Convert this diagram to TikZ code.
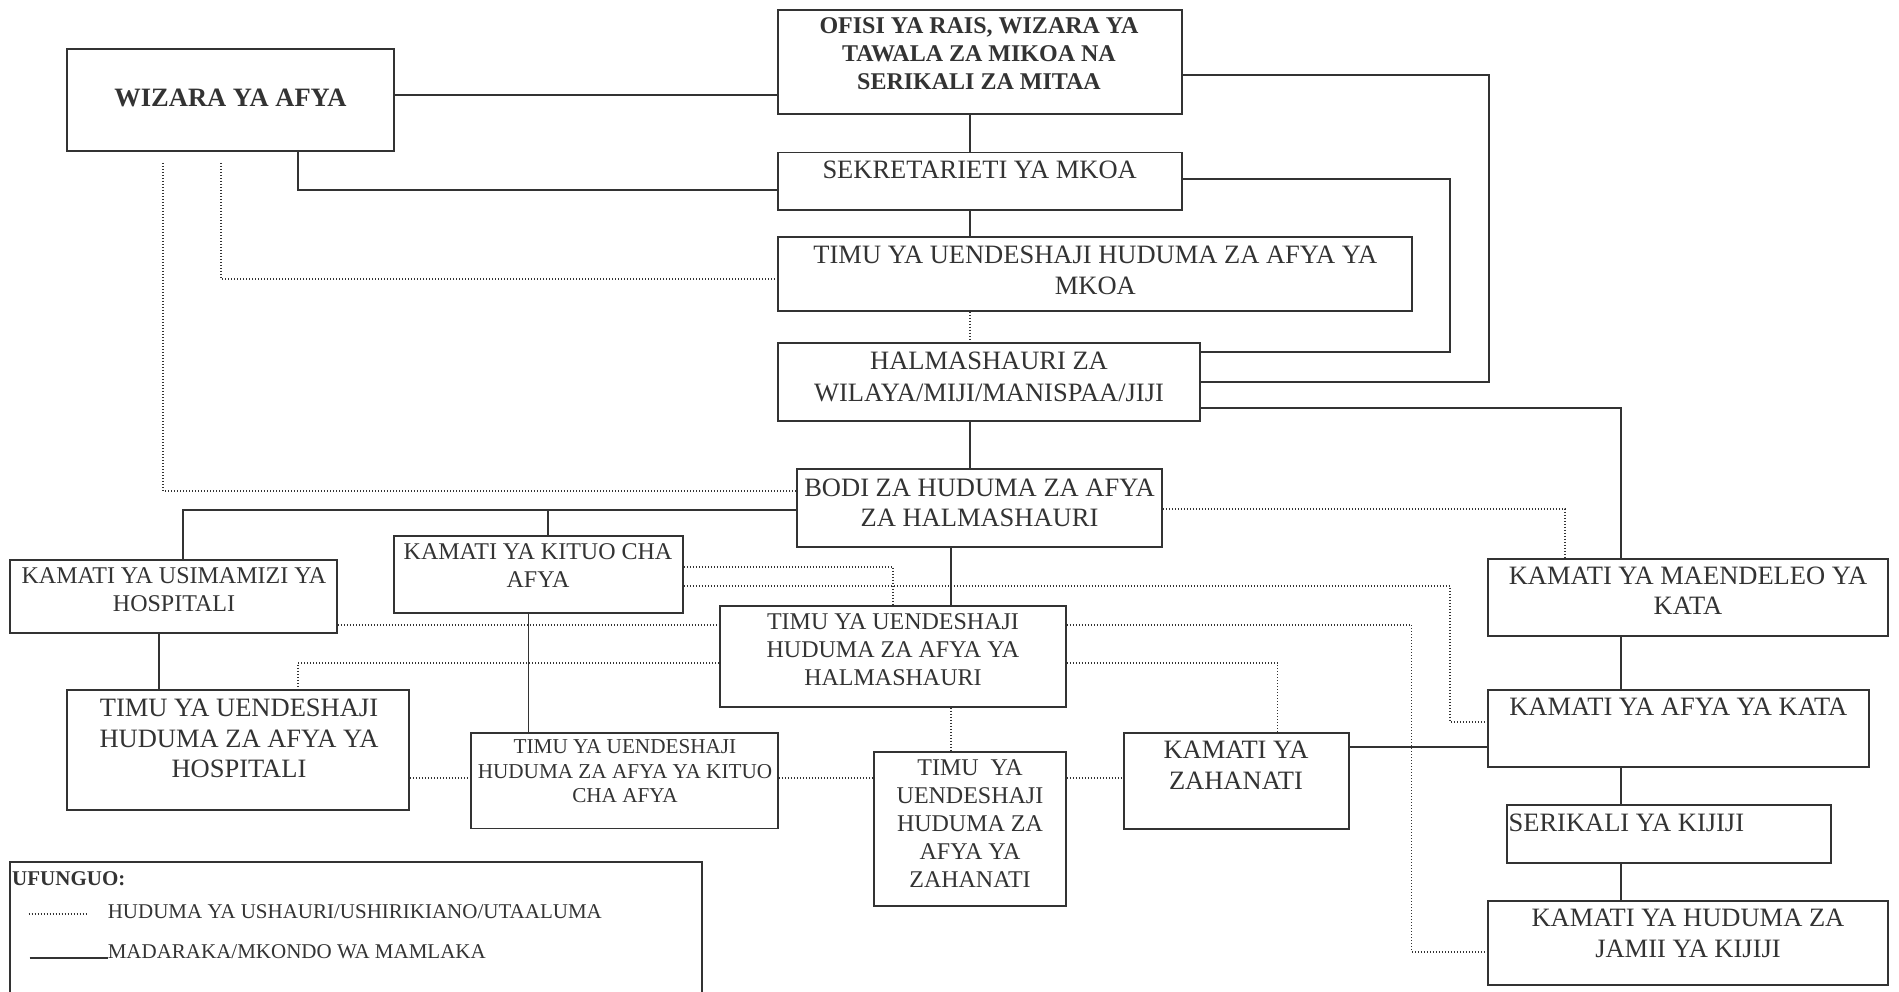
\documentclass[tikz,border=0pt]{standalone}
\usepackage{fontspec}
\setmainfont{Liberation Serif}
\usetikzlibrary{calc}
\definecolor{ink}{HTML}{333333}
\newcommand{\myfs}[2]{\fontsize{#1}{#2}\selectfont}
\newcommand{\mkbox}[5]{\node[box, minimum width={#4-#2}, minimum height={#5-#3}] (#1) at ({(#2+#4)/2},{(#3+#5)/2}) {};}
\begin{document}
\begin{tikzpicture}[x=1pt,y=-1pt,
  box/.style={draw=ink, line width=1.8pt, inner sep=0pt},
  sline/.style={draw=ink, line width=1.6pt},
  dline/.style={draw=ink, line width=1.3pt, dash pattern=on 1pt off 2pt},
  txt/.style={inner sep=0pt, align=center, text=ink},
]
\fill[white] (0,0) rectangle (1899,992);
\useasboundingbox (0,0) rectangle (1899,992);

% boxes
\mkbox{wizara}{67}{49}{394}{151}
\mkbox{ofisi}{778}{10}{1182}{114}
\mkbox{sekr}{778}{152.5}{1182}{210}
\mkbox{mkoa}{778}{237}{1412}{311}
\mkbox{halm}{778}{343}{1200}{421}
\mkbox{bodi}{797}{469}{1162}{547}
\mkbox{usim}{10}{560}{337}{633}
\mkbox{kituo}{394}{536}{683}{613}
\mkbox{timuhal}{720}{606}{1066}{707}
\mkbox{timuhosp}{67}{690}{409}{810}
\mkbox{timukituo}{471}{733}{778}{828.5}
\mkbox{timuzah}{874}{752}{1066}{906}
\mkbox{kamzah}{1124}{733}{1349}{829}
\mkbox{maend}{1488}{559}{1888}{636}
\mkbox{afyakata}{1488}{690}{1869}{767}
\mkbox{serikali}{1507}{805}{1831}{863}
\mkbox{jamii}{1488}{901}{1888}{985}

% texts
\node[txt, anchor=base, font={\bfseries\myfs{26.5}{31}}] (wizara-t) at (230.5,106.7) {WIZARA YA AFYA};
\node[txt, anchor=north, font={\bfseries\myfs{24}{28.3}}] (ofisi-t) at (979,17.2) {OFISI YA RAIS, WIZARA YA\\TAWALA ZA MIKOA NA\\SERIKALI ZA MITAA};
\node[txt, anchor=base, font={\myfs{26.5}{31}}] (sekr-t) at (979.7,178.3) {SEKRETARIETI YA MKOA};
\node[txt, anchor=north, font={\myfs{26.5}{31.7}}] (mkoa-t) at (1095.4,245.4) {TIMU YA UENDESHAJI HUDUMA ZA AFYA YA\\MKOA};
\node[txt, anchor=north, font={\myfs{26.5}{31.7}}] (halm-t) at (989,352.1) {HALMASHAURI ZA\\WILAYA/MIJI/MANISPAA/JIJI};
\node[txt, anchor=north, font={\myfs{26.5}{30}}] (bodi-t) at (979.5,478.8) {BODI ZA HUDUMA ZA AFYA\\ZA HALMASHAURI};
\node[txt, anchor=north, font={\myfs{24}{27.7}}] (usim-t) at (174,567.8) {KAMATI YA USIMAMIZI YA\\HOSPITALI};
\node[txt, anchor=north, font={\myfs{24}{28}}] (kituo-t) at (538,543.8) {KAMATI YA KITUO CHA\\AFYA};
\node[txt, anchor=north, font={\myfs{24}{28}}] (timuhal-t) at (893,613.8) {TIMU YA UENDESHAJI\\HUDUMA ZA AFYA YA\\HALMASHAURI};
\node[txt, anchor=north, font={\myfs{26.5}{30.6}}] (timuhosp-t) at (239,698.8) {TIMU YA UENDESHAJI\\HUDUMA ZA AFYA YA\\HOSPITALI};
\node[txt, anchor=north, font={\myfs{21.2}{24.5}}] (timukituo-t) at (625,739.7) {TIMU YA UENDESHAJI\\HUDUMA ZA AFYA YA KITUO\\CHA AFYA};
\node[txt, anchor=north, font={\myfs{24}{27.8}}] (timuzah-t) at (970,759.8) {TIMU\ \ YA\\UENDESHAJI\\HUDUMA ZA\\AFYA YA\\ZAHANATI};
\node[txt, anchor=north, font={\myfs{26.5}{31.7}}] (kamzah-t) at (1236,740.4) {KAMATI YA\\ZAHANATI};
\node[txt, anchor=north, font={\myfs{26.5}{30}}] (maend-t) at (1688,567.1) {KAMATI YA MAENDELEO YA\\KATA};
\node[txt, anchor=base, font={\myfs{26.5}{31}}] (afyakata-t) at (1678.3,715.7) {KAMATI YA AFYA YA KATA};
\node[txt, anchor=base west, font={\myfs{26.5}{31}}] (serikali-t) at (1508.4,831) {SERIKALI YA KIJIJI};
\node[txt, anchor=north, font={\myfs{26.5}{31}}] (jamii-t) at (1688,908.8) {KAMATI YA HUDUMA ZA\\JAMII YA KIJIJI};

% free ends
\coordinate (w1) at (221,163);
\coordinate (w2) at (163,163);
\coordinate (j1) at (548,510);

% solid connectors
\draw[sline] (wizara.east |- 0,95) -- (ofisi.west |- 0,95);
\draw[sline] (wizara.south -| 298,0) |- (sekr.west |- 0,190);
\draw[sline] (ofisi.south -| 970,0) -- (sekr.north -| 970,0);
\draw[sline] (sekr.south -| 970,0) -- (mkoa.north -| 970,0);
\draw[sline] (sekr.east |- 0,179) -| (1450,352) -- (halm.east |- 0,352);
\draw[sline] (ofisi.east |- 0,75) -| (1489,382) -- (halm.east |- 0,382);
\draw[sline] (halm.east |- 0,408) -| (maend.north -| 1621,0);
\draw[sline] (halm.south -| 970,0) -- (bodi.north -| 970,0);
\draw[sline] (bodi.west |- 0,510) -| (usim.north -| 183,0);
\draw[sline] (j1) -- (kituo.north -| 548,0);
\draw[sline] (bodi.south -| 951,0) -- (timuhal.north -| 951,0);
\draw[sline] (usim.south -| 159,0) -- (timuhosp.north -| 159,0);
\draw[sline] (kituo.south -| 528.5,0) -- (timukituo.north -| 528.5,0);
\draw[sline] (kamzah.east |- 0,747) -- (afyakata.west |- 0,747);
\draw[sline] (maend.south -| 1621,0) -- (afyakata.north -| 1621,0);
\draw[sline] (afyakata.south -| 1621,0) -- (serikali.north -| 1621,0);
\draw[sline] (serikali.south -| 1621,0) -- (jamii.north -| 1621,0);

% dotted connectors
\draw[dline] (mkoa.south -| 970,0) -- (halm.north -| 970,0);
\draw[dline] (w1) |- (mkoa.west |- 0,279);
\draw[dline] (w2) |- (bodi.west |- 0,491);
\draw[dline] (bodi.east |- 0,509) -| (maend.north -| 1565,0);
\draw[dline] (kituo.east |- 0,567) -| (timuhal.north -| 893,0);
\draw[dline] (kituo.east |- 0,586) -| (1450,722) -- (afyakata.west |- 0,722);
\draw[dline] (usim.east |- 0,625) -- (timuhal.west |- 0,625);
\draw[dline] (timuhal.west |- 0,663) -| (timuhosp.north -| 298,0);
\draw[dline] (timuhal.east |- 0,625) -| (1411.5,952) -- (jamii.west |- 0,952);
\draw[dline] (timuhal.east |- 0,663) -| (kamzah.north -| 1277.5,0);
\draw[dline] (timuhal.south -| 951,0) -- (timuzah.north -| 951,0);
\draw[dline] (timuhosp.east |- 0,778) -- (timukituo.west |- 0,778);
\draw[dline] (timukituo.east |- 0,778) -- (timuzah.west |- 0,778);
\draw[dline] (timuzah.east |- 0,778) -- (kamzah.west |- 0,778);

% legend
\draw[draw=ink, line width=1.8pt] (10,1000) -- (10,862) -- (702,862) -- (702,1000);
\node[txt, anchor=base west, font={\bfseries\myfs{21}{25}}] (lg-title) at (12,885) {UFUNGUO:};
\node[txt, anchor=base west, font={\myfs{21}{25}}] (lg-d) at (107.6,918) {HUDUMA YA USHAURI/USHIRIKIANO/UTAALUMA};
\node[txt, anchor=base west, font={\myfs{21}{25}}] (lg-s) at (107.6,958) {MADARAKA/MKONDO WA MAMLAKA};
\coordinate (lgd1) at (28.7,914);
\coordinate (lgd2) at (86,914);
\coordinate (lgs1) at (29.6,958);
\draw[dline] (lgd1) -- (lgd2);
\draw[sline, line width=2.4pt] (lgs1) -- (lg-s.base west);
\end{tikzpicture}
\end{document}
